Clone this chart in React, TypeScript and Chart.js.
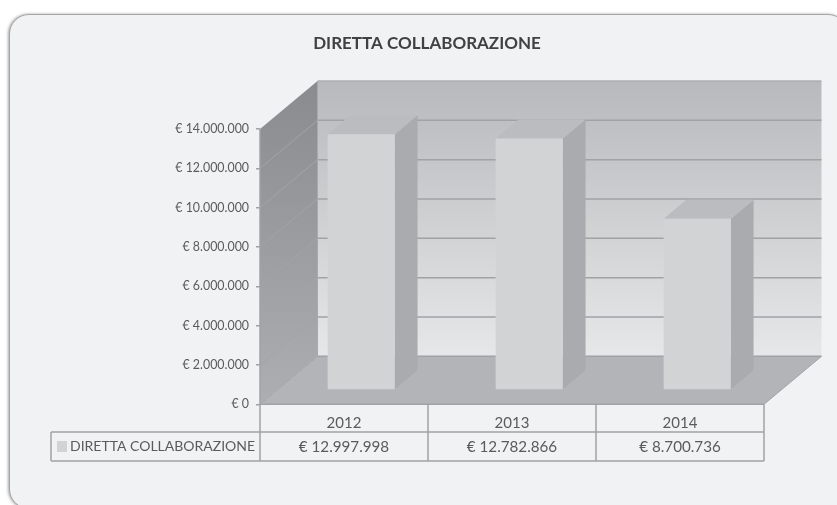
import React, { useEffect, useRef } from "react";
import { Chart, registerables } from "chart.js";

Chart.register(...registerables);

const seriesName = "DIRETTA COLLABORAZIONE";
const categories = ["2012", "2013", "2014"];
const seriesValues = [12997998, 12782866, 8700736];
const axisMax = 14000000;
const axisStep = 2000000;

const FONT = "Lato, Carlito, sans-serif";
const TEXT = "#5a5b5d";
const LINE = "#a1a2a4";
const DX = 57.5;
const DY = 48;
const BAR_NEAR = 0.3; // fraction of the room's depth where the bar's front face stands
const BAR_DEPTH = 0.395; // fraction of the room's depth that the bar takes up

const euro = (v: number) => "€ " + String(Math.round(v)).replace(/\B(?=(\d{3})+(?!\d))/g, ".");

const poly = (ctx: CanvasRenderingContext2D, pts: number[][], fill: string | CanvasGradient) => {
  ctx.beginPath();
  pts.forEach((p, i) => (i ? ctx.lineTo(p[0], p[1]) : ctx.moveTo(p[0], p[1])));
  ctx.closePath();
  ctx.fillStyle = fill;
  ctx.fill();
};

const hLine = (ctx: CanvasRenderingContext2D, x1: number, y1: number, x2: number, y2: number, color: string, w: number) => {
  ctx.beginPath();
  ctx.moveTo(x1, y1);
  ctx.lineTo(x2, y2);
  ctx.strokeStyle = color;
  ctx.lineWidth = w;
  ctx.stroke();
};

const room3d = {
  id: "room3d",
  beforeDatasetsDraw(chart: any) {
    const { ctx, chartArea: a, scales } = chart;
    const y = scales.y;
    ctx.save();

    const wall = ctx.createLinearGradient(0, a.top - DY, 0, a.bottom - DY);
    wall.addColorStop(0, "#b8b9bc");
    wall.addColorStop(1, "#e6e7e8");
    poly(ctx, [[a.left + DX, a.top - DY], [a.right + DX, a.top - DY], [a.right + DX, a.bottom - DY], [a.left + DX, a.bottom - DY]], wall);

    const side = ctx.createLinearGradient(0, a.top - DY, 0, a.bottom);
    side.addColorStop(0, "#8a8b8e");
    side.addColorStop(1, "#adaeb1");
    poly(ctx, [[a.left, a.top], [a.left + DX, a.top - DY], [a.left + DX, a.bottom - DY], [a.left, a.bottom]], side);

    poly(ctx, [[a.left, a.bottom], [a.left + DX, a.bottom - DY], [a.right + DX, a.bottom - DY], [a.right, a.bottom]], "#b3b4b7");

    y.ticks.forEach((t: any) => {
      const py = y.getPixelForValue(t.value);
      if (t.value === axisMax) {
        hLine(ctx, a.left + DX, py - DY, a.right + DX, py - DY, "#aeafb2", 1.5);
      } else {
        hLine(ctx, a.left + DX, py - DY, a.right + DX, py - DY, LINE, 1.5);
        hLine(ctx, a.left, py, a.left + DX, py - DY, "#a3a4a7", 1);
      }
    });
    hLine(ctx, a.right, a.bottom, a.right + DX, a.bottom - DY, "#a0a1a4", 1);
    hLine(ctx, a.left + DX, a.top - DY, a.left + DX, a.bottom - DY, "#a8a9ac", 1);

    // side and top faces of each bar, taken from the real bar elements
    const ox = DX * BAR_NEAR;
    const oy = DY * BAR_NEAR;
    const bx = DX * BAR_DEPTH;
    const by = DY * BAR_DEPTH;
    chart.getDatasetMeta(0).data.forEach((b: any) => {
      const l = b.x - b.width / 2 + ox;
      const r = b.x + b.width / 2 + ox;
      const t = b.y - oy;
      const f = b.base - oy;
      poly(ctx, [[r, t], [r + bx, t - by], [r + bx, f - by], [r, f]], "#aaabae");
      poly(ctx, [[l, t], [l + bx, t - by], [r + bx, t - by], [r, t]], "#bbbcbf");
    });
    ctx.restore();
  },
  beforeDatasetDraw(chart: any) {
    chart.ctx.save();
    chart.ctx.translate(DX * BAR_NEAR, -DY * BAR_NEAR);
  },
  afterDatasetDraw(chart: any) {
    chart.ctx.restore();
  },
  afterDraw(chart: any) {
    const { ctx, chartArea: a, scales } = chart;
    const x = scales.x;
    const tableLeft = 51;
    const row1 = 432;
    const row2 = 461;
    const slot = (a.right - a.left) / categories.length;
    ctx.save();
    hLine(ctx, a.left, a.top, a.left, a.bottom, LINE, 1.5);
    hLine(ctx, a.left, a.bottom, a.right, a.bottom, LINE, 1.5);
    hLine(ctx, tableLeft, row1, a.right, row1, LINE, 1.5);
    hLine(ctx, tableLeft, row2, a.right, row2, LINE, 1.5);
    hLine(ctx, tableLeft, row1, tableLeft, row2, LINE, 1.5);
    for (let i = 0; i <= categories.length; i++) {
      const vx = a.left + slot * i;
      hLine(ctx, vx, a.bottom, vx, row2, LINE, 1.5);
    }
    ctx.fillStyle = "#d2d3d5";
    ctx.fillRect(57, 441, 10, 11);
    ctx.fillStyle = TEXT;
    ctx.textBaseline = "middle";
    ctx.font = `14px ${FONT}`;
    ctx.textAlign = "left";
    ctx.fillText(seriesName, 70, 446.5);
    ctx.font = `15.2px ${FONT}`;
    ctx.textAlign = "center";
    seriesValues.forEach((v, i) => ctx.fillText(euro(v), x.getPixelForValue(i), 447));
    ctx.restore();
  },
};

export default function App() {
  const ref = useRef<HTMLCanvasElement>(null);
  useEffect(() => {
    document.body.style.margin = "0";
    const chart = new Chart(ref.current!, {
      type: "bar",
      data: {
        labels: categories,
        datasets: [
          {
            label: seriesName,
            data: seriesValues,
            backgroundColor: "#d2d3d5",
            borderWidth: 0,
            categoryPercentage: 1,
            barPercentage: 0.4,
            clip: false,
          } as any,
        ],
      },
      plugins: [room3d],
      options: {
        responsive: false,
        animation: false,
        layout: { padding: { left: 90, right: 73, top: 0, bottom: 0 } },
        plugins: {
          legend: { display: false },
          tooltip: { enabled: false },
          title: {
            display: true,
            text: seriesName,
            color: "#404143",
            font: { family: FONT, size: 17, weight: "bold", lineHeight: 1.2 },
            padding: { top: 33, bottom: 75.6 },
          },
        },
        scales: {
          x: {
            type: "category",
            grid: { display: false },
            border: { display: false },
            ticks: { color: TEXT, font: { family: FONT, size: 15 }, padding: 2 },
            afterFit: (s: any) => { s.height = 100.7; },
          },
          y: {
            min: 0,
            max: axisMax,
            grid: { drawOnChartArea: false, drawTicks: true, tickLength: 4, lineWidth: 1.5, color: LINE },
            border: { display: false },
            ticks: { stepSize: axisStep, color: TEXT, padding: 7, font: { family: FONT, size: 12.4 }, callback: (v: any) => euro(Number(v)) },
            afterFit: (s: any) => { s.width = 170; },
          },
        },
      } as any,
    });
    return () => chart.destroy();
  }, []);
  return (
    <div style={{ position: "absolute", left: 0, top: 0, width: 837, height: 505, overflow: "hidden", background: "#fff" }}>
      <div
        style={{
          position: "absolute",
          left: 9,
          top: 13.5,
          width: 839,
          height: 495,
          boxSizing: "border-box",
          borderRadius: 20,
          background: "#f1f2f4",
          border: "1.5px solid #a4a5a7",
          boxShadow: "-1px 0px 3px rgba(0,0,0,0.35)",
        }}
      />
      <canvas ref={ref} width={837} height={505} style={{ position: "absolute", left: 0, top: 0, display: "block" }} />
    </div>
  );
}
